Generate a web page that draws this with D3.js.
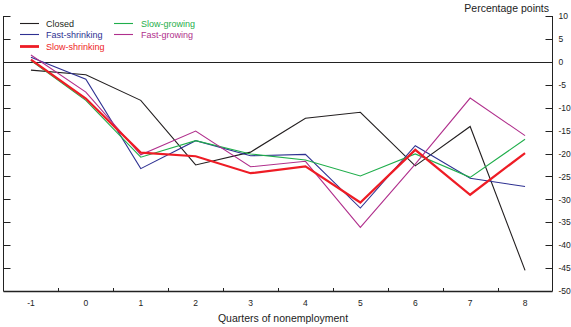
<!DOCTYPE html>
<html><head><meta charset="utf-8">
<script src="https://cdn.jsdelivr.net/npm/d3@7"></script>
<style>body{margin:0;background:#fff}svg{display:block}text{font-family:"Liberation Sans",Arial,sans-serif}</style>
</head><body><svg id="c" width="571" height="327"></svg>
<script>
const quarters = [-1, 0, 1, 2, 3, 4, 5, 6, 7, 8];
const closed        = [-1.8, -2.8, -8.4, -22.5, -19.7, -12.3, -11.0, -22.7, -14.1, -45.5];
const fastShrinking = [1.0, -3.8, -23.3, -17.2, -20.5, -20.2, -31.9, -18.3, -25.4, -27.2];
const slowShrinking = [0.5, -8.0, -19.8, -20.6, -24.3, -22.8, -30.7, -19.2, -29.0, -19.9];
const slowGrowing   = [0.3, -8.4, -20.8, -17.2, -20.1, -21.4, -24.9, -20.1, -25.2, -16.9];
const fastGrowing   = [1.5, -6.6, -20.3, -15.1, -22.9, -21.7, -36.1, -22.3, -7.9, -16.1];
const yTicks = [10, 5, 0, -5, -10, -15, -20, -25, -30, -35, -40, -45, -50];
const seriesNames = ["Closed", "Fast-shrinking", "Slow-shrinking", "Slow-growing", "Fast-growing"];

const series = [
  {name: seriesNames[0], values: closed, color: "#231f20", w: 1.1},
  {name: seriesNames[1], values: fastShrinking, color: "#2e3192", w: 1.1},
  {name: seriesNames[3], values: slowGrowing, color: "#1fae4b", w: 1.1},
  {name: seriesNames[4], values: fastGrowing, color: "#b02f8c", w: 1.1},
  {name: seriesNames[2], values: slowShrinking, color: "#ee1c25", w: 2.2}
];

const svg = d3.select("#c");
const L = 3.5, R = 552.5, T = 16, B = 291;
const x = d3.scaleBand().domain(quarters).range([L, R]);
const y = d3.scaleLinear().domain([-50, 10]).range([B, T]);
const cx = d => x(d) + x.bandwidth() / 2;

// right axis
const ra = svg.append("g").attr("transform", `translate(${R},0)`)
  .call(d3.axisRight(y).tickValues(yTicks).tickSize(0).tickPadding(6).tickFormat(d => String(d)));
ra.select(".domain").remove();
ra.selectAll("text").attr("font-size", 8.5).attr("fill", "#222");
svg.append("g").selectAll("line").data(yTicks).join("line")
  .attr("x1", R - 7).attr("x2", R).attr("y1", d => Math.round(y(d)) + .5).attr("y2", d => Math.round(y(d)) + .5)
  .attr("stroke", "#222").attr("stroke-width", 1);
// left ticks
svg.append("g").selectAll("line").data(yTicks).join("line")
  .attr("x1", L).attr("x2", L + 7).attr("y1", d => Math.round(y(d)) + .5).attr("y2", d => Math.round(y(d)) + .5)
  .attr("stroke", "#222").attr("stroke-width", 1);
// axis lines
svg.append("line").attr("x1", L).attr("x2", L).attr("y1", T).attr("y2", B).attr("stroke", "#222");
svg.append("line").attr("x1", R).attr("x2", R).attr("y1", T).attr("y2", B).attr("stroke", "#222");
svg.append("line").attr("x1", L).attr("x2", R).attr("y1", B + .5).attr("y2", B + .5).attr("stroke", "#222").attr("stroke-width", 1.3);
svg.append("line").attr("x1", L).attr("x2", R).attr("y1", Math.round(y(0)) + .5).attr("y2", Math.round(y(0)) + .5).attr("stroke", "#222").attr("stroke-width", 1.1);

// bottom ticks between bands
svg.append("g").selectAll("line").data(quarters.slice(1)).join("line")
  .attr("x1", d => Math.round(x(d)) + .5).attr("x2", d => Math.round(x(d)) + .5)
  .attr("y1", B - 3).attr("y2", B).attr("stroke", "#222");
// bottom labels
svg.append("g").selectAll("text").data(quarters).join("text")
  .attr("x", d => cx(d)).attr("y", 306).attr("text-anchor", "middle")
  .attr("font-size", 8.5).attr("fill", "#222").text(d => String(d));

// titles
svg.append("text").attr("x", 549).attr("y", 12).attr("text-anchor", "end").attr("font-size", 10.5).attr("fill", "#222").text("Percentage points");
svg.append("text").attr("x", 283).attr("y", 322).attr("text-anchor", "middle").attr("font-size", 10.5).attr("fill", "#222").text("Quarters of nonemployment");

// lines
const line = d3.line().x((d, i) => cx(quarters[i])).y(d => y(d));
svg.append("g").selectAll("path").data(series).join("path")
  .attr("d", s => line(s.values)).attr("fill", "none")
  .attr("stroke", s => s.color).attr("stroke-width", s => s.w).attr("stroke-linejoin", "miter");

// legend
const legend = [
  {s: series[0], lx: 20, tx: 46, y: 23.5},
  {s: series[1], lx: 20, tx: 46, y: 34.5},
  {s: series[4], lx: 20, tx: 46, y: 46.5},
  {s: series[2], lx: 114, tx: 141, y: 23.5},
  {s: series[3], lx: 114, tx: 141, y: 34.5}
];
const lg = svg.append("g");
legend.forEach(d => {
  lg.append("line").attr("x1", d.lx).attr("x2", d.lx + 19).attr("y1", d.y).attr("y2", d.y)
    .attr("stroke", d.s.color).attr("stroke-width", d.s.w === 2.2 ? 2.8 : 1.1);
  lg.append("text").attr("x", d.tx).attr("y", d.y + 3.2).attr("font-size", 9).attr("fill", d.s.color).text(d.s.name);
});
</script></body></html>
